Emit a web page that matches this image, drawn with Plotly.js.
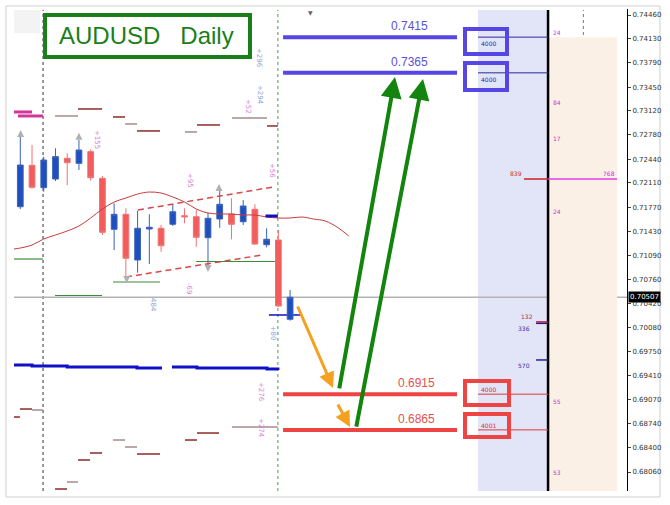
<!DOCTYPE html>
<html><head><meta charset="utf-8">
<script src="https://cdn.plot.ly/plotly-3.0.1.min.js"></script>
<style>html,body{margin:0;padding:0;background:#fff}#chart{width:670px;height:505px}</style>
</head><body><div id="chart"></div>
<script>
// ---- candles (daily AUDUSD) ----
const candleIdx = [0,1,2,3,4,5,6,7,8,9,10,11,12,13,14,15,16,17,18,19,20,21,22,23];
const opens  = [0.71775,0.72355,0.72042,0.72163,0.72453,0.72383,0.72546,0.72173,0.71459,0.71669,0.71029,0.71463,0.71473,0.71529,0.71649,0.71635,0.71341,0.71603,0.71673,0.71565,0.71739,0.71243,0.71309,0.70199];
const highs  = [0.72780,0.72640,0.72476,0.72593,0.72523,0.72709,0.72579,0.72205,0.71823,0.71753,0.71719,0.71669,0.71519,0.71809,0.71753,0.71729,0.71691,0.71995,0.71893,0.71869,0.71809,0.71473,0.71449,0.70609];
const lows   = [0.71743,0.72028,0.71986,0.72135,0.72079,0.72289,0.72140,0.71379,0.71169,0.70773,0.70851,0.70973,0.71145,0.71505,0.71543,0.71215,0.70959,0.71481,0.71319,0.71519,0.71245,0.71207,0.70375,0.70179];
const closes = [0.72359,0.72047,0.72429,0.72476,0.72392,0.72569,0.72182,0.71417,0.71669,0.71053,0.71473,0.71487,0.71229,0.71705,0.71635,0.71347,0.71613,0.71809,0.71529,0.71785,0.71253,0.71319,0.70385,0.70507];

// moving average
const maX = [-0.54,0,1,2,3,4,5,6,7,8,9,10,11,12,13,14,15,16,17,18,19,20,21,22,23,24,25,26,27,28];
const maY = [0.71183,0.71197,0.71239,0.71323,0.71379,0.71435,0.71505,0.71617,0.71743,0.71841,0.71897,0.71953,0.71981,0.71967,0.71911,0.71841,0.71743,0.71687,0.71673,0.71673,0.71659,0.71659,0.71631,0.71617,0.71617,0.71631,0.71603,0.71575,0.71491,0.71365];

// channel lines
const chanUpX = [10.03,21.54], chanUpY = [0.71729,0.72051];
const chanLoX = [9.01,20.6],   chanLoY = [0.70791,0.71099];

// pivot segments
const segTopX0 = [-0.54,-0.2,2.96,4.92,7.9,8.93,9.95,14.04,15.06,18.04,21.03];
const segTopX1 = [1.0,1.94,4.92,6.97,8.93,9.95,11.91,15.06,17.02,21.03,21.96];
const segTopY  = [0.73102,0.73046,0.73046,0.73144,0.73032,0.72934,0.72836,0.72822,0.72920,0.73018,0.72906];
const segTopTone = ['m','m','g','r','r','g','r','g','r','g','r'];
const segBotX0 = [-0.54,-0.03,1.0,2.96,3.98,4.92,5.94,7.9,8.93,9.95,14.04,15.06,18.04];
const segBotX1 = [-0.03,1.0,1.94,3.98,4.92,5.94,6.97,8.93,9.95,11.91,15.06,16.94,21.96];
const segBotY  = [0.68830,0.68942,0.68928,0.67822,0.67920,0.68228,0.68326,0.68508,0.68410,0.68312,0.68508,0.68606,0.68690];
const segBotTone = ['r','r','g','r','g','r','r','g','g','r','r','r','g'];
const greenX0 = [-0.54,2.96,7.9,15.0];
const greenX1 = [1.94,6.97,11.91,21.96];
const greenY  = [0.71043,0.70532,0.70721,0.71008];
const blueStepX1 = [-0.54,1,4,7,9.95,12.08];
const blueStepY1 = [0.69559,0.69545,0.69531,0.69531,0.69517,0.69517];
const blueStepX2 = [12.93,15.06,21.03,21.96];
const blueStepY2 = [0.69531,0.69517,0.69503,0.69489];

// target levels
const levelVals   = [0.7415,0.7365,0.6915,0.6865];
const levelLabels = ['0.7415','0.7365','0.6915','0.6865'];
const levelQty    = ['4000','4000','4000','4001'];
const currentPrice = 0.70507;

// rotated small labels
const vlabText = ['+296','+294','+52','+155','+56','+95','-69','484','+80','+276','+274'];
const vlabX    = [20.35,20.44,19.41,6.54,21.46,14.47,14.38,11.31,21.54,20.52,20.52];
const vlabY    = [0.73858,0.73340,0.73172,0.72724,0.72289,0.72149,0.70623,0.70399,0.69997,0.69181,0.68676];
const vlabTone = ['b','b','p','p','p','p','p','b','b','p','p'];

// fractal arrows
const upArrX = [0.03,5.0,16.94], upArrY = [0.72850,0.72812,0.72093];
const dnArrX = [9.07,16.0],      dnArrY = [0.70707,0.70861];

// right-panel counts
const sideNumText = ['24','84','17','24','55','53'];
const sideNumY    = [0.74208,0.73228,0.72724,0.71715,0.69054,0.68060];

const tickVals = [0.7446,0.7413,0.7379,0.7345,0.7312,0.7278,0.7244,0.7211,0.7177,0.7143,0.7109,0.7076,0.7042,0.7008,0.6975,0.6941,0.6907,0.6874,0.6840,0.6806];
const tickText = ['0.74460','0.74130','0.73790','0.73450','0.73120','0.72780','0.72440','0.72110','0.71770','0.71430','0.71090','0.70760','0.70420','0.70080','0.69750','0.69410','0.69070','0.68740','0.68400','0.68060'];

// ---- build ----
const toneCol = {m:'#d4359a', g:'#a88a8a', r:'#8b2a2a', b:'#8fa3d3', p:'#d77fd7'};
const shapes = [];
const annotations = [];
const BLUE='#5646e6', RED='#ef4444';

// frame
shapes.push({type:'rect',xref:'paper',yref:'paper',x0:-0.01305,x1:1.0538,y0:-0.01245,y1:1.00622,line:{color:'#cfcfcf',width:1},layer:'below'});
shapes.push({type:'rect',xref:'paper',yref:'paper',x0:0,x1:0.0424,y0:0.95,y1:0.998,line:{width:0},fillcolor:'#f3f3f3',layer:'below'});
// bands
shapes.push({type:'rect',xref:'x',yref:'paper',x0:39.02,x1:44.99,y0:0,y1:0.998,line:{width:0},fillcolor:'#e2e4f8',layer:'below'});
shapes.push({type:'rect',xref:'x',yref:'y',x0:44.99,x1:50.88,y0:0.67794,y1:levelVals[0],line:{width:0},fillcolor:'#faf0e6',layer:'below'});
// dotted verticals
shapes.push({type:'line',xref:'x',yref:'paper',x0:1.94,x1:1.94,y0:0,y1:0.998,line:{color:'#333',width:1,dash:'dot'},layer:'below'});
shapes.push({type:'line',xref:'x',yref:'paper',x0:21.96,x1:21.96,y0:0,y1:0.998,line:{color:'#4f9a4f',width:1,dash:'dot'},layer:'below'});
shapes.push({type:'line',xref:'x',yref:'paper',x0:48,x1:48,y0:0,y1:0.998,line:{color:'#777',width:1,dash:'dot'},layer:'below'});
// current price line
shapes.push({type:'line',xref:'paper',yref:'y',x0:0,x1:1,y0:currentPrice,y1:currentPrice,line:{color:'#b4b4b4',width:1.5},layer:'below'});
// black divider
shapes.push({type:'line',xref:'x',yref:'paper',x0:44.99,x1:44.99,y0:0,y1:0.998,line:{color:'#000',width:2.5}});

// pivot segments
segTopX0.forEach((x0,i)=>shapes.push({type:'line',xref:'x',yref:'y',x0:x0,x1:segTopX1[i],y0:segTopY[i],y1:segTopY[i],line:{color:toneCol[segTopTone[i]],width:segTopTone[i]==='m'?3:1.5},layer:'below'}));
segBotX0.forEach((x0,i)=>shapes.push({type:'line',xref:'x',yref:'y',x0:x0,x1:segBotX1[i],y0:segBotY[i],y1:segBotY[i],line:{color:toneCol[segBotTone[i]],width:1.5},layer:'below'}));
greenX0.forEach((x0,i)=>shapes.push({type:'line',xref:'x',yref:'y',x0:x0,x1:greenX1[i],y0:greenY[i],y1:greenY[i],line:{color:'#3d8a3d',width:1.2},layer:'below'}));
// short blue dashes near last candles
shapes.push({type:'line',xref:'x',yref:'y',x0:20.9,x1:21.96,y0:0.71645,y1:0.71645,line:{color:'#1010c0',width:3}});
shapes.push({type:'line',xref:'x',yref:'y',x0:21.2,x1:23.84,y0:0.70259,y1:0.70259,line:{color:'#1010c0',width:1.5},layer:'below'});

// level lines + labels + boxes
levelVals.forEach((v,i)=>{
  const c = i<2?BLUE:RED;
  shapes.push({type:'line',xref:'x',yref:'y',x0:22.4,x1:37.23,y0:v,y1:v,line:{color:c,width:4}});
  shapes.push({type:'line',xref:'x',yref:'y',x0:39.02,x1:44.99,y0:v,y1:v,line:{color:i<2?'#2a2a9a':'#e03a3a',width:1}});
  annotations.push({x:i<2?33.2:33.8,y:v,xref:'x',yref:'y',text:levelLabels[i],showarrow:false,yanchor:'bottom',yshift:2,font:{family:'Liberation Sans, Arial',size:12,color:i<2?'#5a50d8':'#e65050'}});
  annotations.push({x:39.1,y:v,xref:'x',yref:'y',text:levelQty[i],showarrow:false,xanchor:'left',yanchor:i<2?'top':'bottom',yshift:-1,font:{family:'DejaVu Sans',size:6,color:i<2?'#2a2a9a':'#d03030'}});
});
const boxY0 = [0.74264,0.73788,0.69335,0.68872];
const boxY1 = [0.73914,0.73410,0.68999,0.68550];
boxY0.forEach((y0,i)=>shapes.push({type:'rect',xref:'x',yref:'y',x0:37.91,x1:i<2?41.49:41.66,y0:y0,y1:boxY1[i],line:{color:i<2?BLUE:RED,width:4}}));

// title box
shapes.push({type:'rect',xref:'x',yref:'y',x0:2.11,x1:19.58,y0:0.7446,y1:0.73872,line:{color:'#1a7f1a',width:4},fillcolor:'#fff'});
annotations.push({x:10.75,y:0.74166,xref:'x',yref:'y',text:'AUDUSD\u00a0\u00a0\u00a0Daily',showarrow:false,font:{family:'Liberation Sans, Arial',size:24,color:'#1a7f1a'}});

// rotated labels
vlabText.forEach((t,i)=>annotations.push({x:vlabX[i],y:vlabY[i],xref:'x',yref:'y',text:t,textangle:90,showarrow:false,font:{family:'DejaVu Sans',size:7,color:toneCol[vlabTone[i]]}}));

// side numbers
sideNumText.forEach((t,i)=>annotations.push({x:45.2,y:sideNumY[i],xref:'x',yref:'y',text:t,showarrow:false,xanchor:'left',font:{family:'DejaVu Sans',size:6,color:'#c23cc8'}}));
// 839 / 768 level
shapes.push({type:'line',xref:'x',yref:'y',x0:42.94,x1:44.99,y0:0.72163,y1:0.72163,line:{color:'#d02020',width:1.5}});
shapes.push({type:'line',xref:'x',yref:'y',x0:44.99,x1:50.87,y0:0.72163,y1:0.72163,line:{color:'#e040e0',width:1.5}});
annotations.push({x:42.9,y:0.72163,xref:'x',yref:'y',text:'839',showarrow:false,xanchor:'right',yanchor:'bottom',font:{family:'DejaVu Sans',size:6,color:'#c03030'}});
annotations.push({x:50.87,y:0.72163,xref:'x',yref:'y',text:'768',showarrow:false,xanchor:'right',yanchor:'bottom',font:{family:'DejaVu Sans',size:6,color:'#d030d0'}});
// 132 / 336 and 570
shapes.push({type:'line',xref:'x',yref:'y',x0:43.97,x1:44.99,y0:0.70161,y1:0.70161,line:{color:'#b01030',width:1.5}});
shapes.push({type:'line',xref:'x',yref:'y',x0:43.97,x1:44.99,y0:0.70140,y1:0.70140,line:{color:'#20208a',width:1.2}});
shapes.push({type:'line',xref:'x',yref:'y',x0:43.97,x1:44.99,y0:0.69629,y1:0.69629,line:{color:'#20208a',width:1.5}});
annotations.push({x:43.9,y:0.70161,xref:'x',yref:'y',text:'132',showarrow:false,xanchor:'right',yanchor:'bottom',font:{family:'DejaVu Sans',size:6,color:'#c03030'}});
annotations.push({x:43.6,y:0.70140,xref:'x',yref:'y',text:'336',showarrow:false,xanchor:'right',yanchor:'top',font:{family:'DejaVu Sans',size:6,color:'#3030b0'}});
annotations.push({x:43.6,y:0.69629,xref:'x',yref:'y',text:'570',showarrow:false,xanchor:'right',yanchor:'top',font:{family:'DejaVu Sans',size:6,color:'#3030b0'}});
// little top marker
annotations.push({x:24.7,y:0.74502,xref:'x',yref:'y',text:'\u25BC',showarrow:false,font:{family:'DejaVu Sans',size:6,color:'#666'}});
// current price tag
annotations.push({x:1,y:currentPrice,xref:'paper',yref:'y',text:'0.70507',showarrow:false,xanchor:'left',xshift:1,bgcolor:'#000',borderpad:1,font:{family:'DejaVu Sans',size:7,color:'#fff'}});

// arrows (green targets, orange entries)
const arrows = [
  {x:31.94,y:0.73592,ax:27.17,ay:0.69209,c:'#13850f',w:4},
  {x:34.33,y:0.73564,ax:28.62,ay:0.68676,c:'#13850f',w:4},
  {x:26.66,y:0.69237,ax:23.59,ay:0.70399,c:'#f5a01e',w:3},
  {x:28.11,y:0.68690,ax:27.00,ay:0.69026,c:'#f5a01e',w:3}
];
arrows.forEach(a=>annotations.push({x:a.x,y:a.y,ax:a.ax,ay:a.ay,xref:'x',yref:'y',axref:'x',ayref:'y',text:'',showarrow:true,arrowhead:2,arrowsize:1.05,arrowwidth:a.w,arrowcolor:a.c}));

const traces = [
  {type:'scatter',mode:'lines',x:blueStepX1,y:blueStepY1,line:{color:'#1010c8',width:3,shape:'hv'},hoverinfo:'skip'},
  {type:'scatter',mode:'lines',x:blueStepX2,y:blueStepY2,line:{color:'#1010c8',width:3,shape:'hv'},hoverinfo:'skip'},
  {type:'scatter',mode:'lines',x:maX,y:maY,line:{color:'#c83a3a',width:1,shape:'spline'},hoverinfo:'skip'},
  {type:'scatter',mode:'lines',x:chanUpX,y:chanUpY,line:{color:'#d84848',width:1.5,dash:'6px,4px'},hoverinfo:'skip'},
  {type:'scatter',mode:'lines',x:chanLoX,y:chanLoY,line:{color:'#d84848',width:1.5,dash:'6px,4px'},hoverinfo:'skip'},
  {type:'candlestick',x:candleIdx,open:opens,high:highs,low:lows,close:closes,
   increasing:{line:{color:'#3a62b8',width:1},fillcolor:'#1f4fbf'},
   decreasing:{line:{color:'#f07070',width:1},fillcolor:'#f25c5c'},hoverinfo:'skip'},
  {type:'scatter',mode:'markers',x:upArrX,y:upArrY,marker:{symbol:'arrow-up',size:7,color:'#b0b0b0'},hoverinfo:'skip'},
  {type:'scatter',mode:'markers',x:dnArrX,y:dnArrY,marker:{symbol:'arrow-down',size:7,color:'#b0b0b0'},hoverinfo:'skip'}
];

const layout = {
  width:670,height:505,
  margin:{l:14,r:43,t:9,b:14},
  paper_bgcolor:'#fff',plot_bgcolor:'#fff',
  showlegend:false,
  xaxis:{range:[-0.537,51.72],visible:false,showgrid:false,zeroline:false,rangeslider:{visible:false},fixedrange:true},
  yaxis:{range:[0.67794,0.74544],side:'right',showgrid:false,zeroline:false,showline:true,linecolor:'#000',linewidth:1,
         ticks:'outside',ticklen:3,tickcolor:'#444',tickvals:tickVals,ticktext:tickText,
         tickfont:{family:'DejaVu Sans',size:7,color:'#333'},fixedrange:true},
  shapes:shapes,annotations:annotations
};
Plotly.newPlot('chart',traces,layout,{displayModeBar:false,staticPlot:true});
</script></body></html>
